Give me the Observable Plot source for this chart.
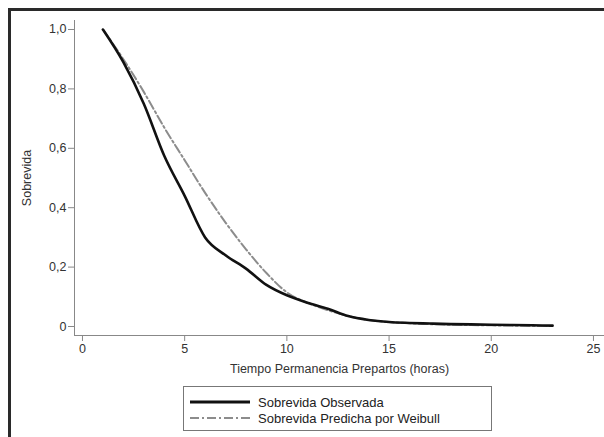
<!DOCTYPE html>
<html>
<head>
<meta charset="utf-8">
<script src="https://cdn.jsdelivr.net/npm/d3@7"></script>
<script src="https://cdn.jsdelivr.net/npm/@observablehq/plot@0.6"></script>
<style>
  html, body { margin: 0; padding: 0; background: #fff; }
  body { width: 604px; height: 437px; overflow: hidden; position: relative; font-family: "Liberation Sans", Arial, sans-serif; }
  #frame { position: absolute; left: 8px; top: 8px; width: 620px; height: 460px; border-top: 3px solid #2a2a2a; border-left: 3px solid #2a2a2a; box-sizing: border-box; pointer-events: none; }
  #chart { position: absolute; left: 0; top: 0; }
  #legend { position: absolute; left: 183px; top: 386px; width: 309px; height: 45px; box-sizing: border-box; border: 1px solid #777; background: #fff; font-size: 13px; color: #222; }
  .row { position: absolute; left: 6px; height: 16px; display: flex; align-items: center; }
  .row svg { margin-right: 8px; }
</style>
</head>
<body>
<div id="chart"></div>
<div id="legend"></div>
<div id="frame"></div>
<script>
const hours = [1, 2, 3, 4, 5, 6, 7, 8, 9, 10, 11, 12, 13, 14, 15, 16, 17, 18, 19, 20, 21, 22, 23];
const observed = [1.0, 0.89, 0.75, 0.575, 0.44, 0.30, 0.24, 0.195, 0.14, 0.105, 0.08, 0.06, 0.035, 0.022, 0.015, 0.012, 0.010, 0.008, 0.007, 0.006, 0.005, 0.004, 0.003];
const weibull = [1.0, 0.90, 0.79, 0.67, 0.56, 0.45, 0.35, 0.26, 0.18, 0.115, 0.08, 0.055, 0.035, 0.022, 0.015, 0.011, 0.008, 0.006, 0.005, 0.004, 0.003, 0.002, 0.002];
const xTicks = [0, 5, 10, 15, 20, 25];
const yTicks = [0, 0.2, 0.4, 0.6, 0.8, 1.0];
const seriesNames = ["Sobrevida Observada", "Sobrevida Predicha por Weibull"];
const xTitle = "Tiempo Permanencia Prepartos (horas)";
const yTitle = "Sobrevida";

const xDomain = [-0.39, 25.54];
const yDomain = [-0.0303, 1.0303];

const obsData = hours.map((h, i) => ({h, s: observed[i]}));
const weiData = hours.map((h, i) => ({h, s: weibull[i]}));

const fmt = d => d === 0 ? "0" : d.toFixed(1).replace(".", ",");

const plot = Plot.plot({
  width: 604,
  height: 382,
  marginLeft: 74,
  marginRight: 0,
  marginTop: 20,
  marginBottom: 47,
  style: {fontFamily: "Liberation Sans, Arial, sans-serif", fontSize: "12.5px", color: "#333", background: "transparent"},
  x: {domain: xDomain},
  y: {domain: yDomain},
  marks: [
    Plot.ruleX([xDomain[0]], {stroke: "#888", strokeWidth: 1}),
    Plot.ruleY([yDomain[0]], {stroke: "#888", strokeWidth: 1}),
    Plot.axisX({ticks: xTicks, tickSize: 6, tickPadding: 3, stroke: "#888", fill: "#333", tickFormat: d => String(d),
      label: xTitle, labelAnchor: "center", labelArrow: "none", labelOffset: 37}),
    Plot.axisY({ticks: yTicks, tickSize: 6, tickPadding: 2, stroke: "#888", fill: "#333", tickFormat: fmt,
      label: yTitle, labelAnchor: "center", labelArrow: "none", labelOffset: 52}),
    Plot.line(weiData, {x: "h", y: "s", stroke: "#8c8c8c", strokeWidth: 2, strokeDasharray: "9,3,2,3", curve: "monotone-x"}),
    Plot.line(obsData, {x: "h", y: "s", stroke: "#111", strokeWidth: 2.6, curve: "monotone-x"})
  ]
});
document.getElementById("chart").appendChild(plot);

const legend = document.getElementById("legend");
const styles = [
  {stroke: "#111", width: 3, dash: ""},
  {stroke: "#8c8c8c", width: 2, dash: "9,3,2,3"}
];
seriesNames.forEach((name, i) => {
  const row = document.createElement("div");
  row.className = "row";
  row.style.top = (7 + i * 16) + "px";
  row.innerHTML = `<svg width="60" height="8"><line x1="0" y1="4" x2="60" y2="4" stroke="${styles[i].stroke}" stroke-width="${styles[i].width}" stroke-dasharray="${styles[i].dash}"/></svg><span>${name}</span>`;
  legend.appendChild(row);
});
</script>
</body>
</html>
